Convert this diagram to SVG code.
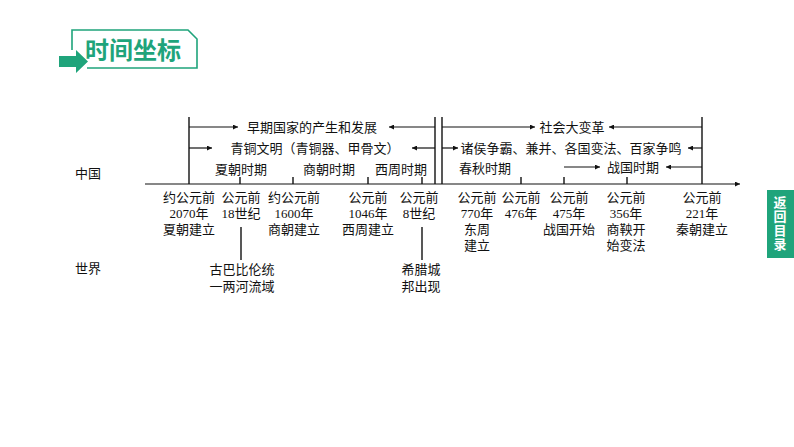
<svg xmlns="http://www.w3.org/2000/svg" width="794" height="447" viewBox="0 0 794 447">
<style>
  .t { font-family: "Liberation Serif", "Noto Sans CJK SC", serif; font-size: 13px; fill: #111; }
  .c { text-anchor: middle; }
  .ln { stroke: #111; stroke-width: 1.4; fill: none; }
  .ar { stroke: #111; stroke-width: 1.2; fill: none; marker-end: url(#ah); }
  .title { font-family: "Noto Sans CJK SC", "Noto Sans", sans-serif; font-weight: bold; font-size: 24px; fill: #1fa47b; }
  .side { font-family: "Noto Sans CJK SC", "Noto Sans", sans-serif; font-weight: bold; font-size: 13px; fill: #fff; writing-mode: vertical-rl; letter-spacing: 1px; }
</style>
<defs>
  <marker id="ah" viewBox="0 0 10 10" refX="10" refY="5" markerWidth="7" markerHeight="5" markerUnits="userSpaceOnUse" orient="auto">
    <path d="M0,0 L10,5 L0,10 Z" fill="#111"/>
  </marker>
</defs>
<rect width="794" height="447" fill="#fff"/>

<g id="header">
  <path d="M72,50 L72,30 L188,30 L197,39 L197,68 L87,68" fill="none" stroke="#1fa47b" stroke-width="1.6"/>
  <path d="M59,56 L76,56 L76,50 L88,61.5 L76,73 L76,67 L59,67 Z" fill="#1fa47b"/>
  <text class="title" x="133" y="59" text-anchor="middle">时间坐标</text>
</g>

<g id="side-tab">
  <rect x="767" y="190" width="27" height="68" fill="#1fa47b"/>
  <text class="side" x="780" y="196">返回目录</text>
</g>

<g id="row-labels">
  <text class="t" x="75" y="178">中国</text>
  <text class="t" x="75" y="273">世界</text>
</g>

<g id="connectors">
  <line class="ar" x1="145" y1="184" x2="740" y2="184"/>
  <line class="ln" x1="189" y1="117" x2="189" y2="184"/>
  <line class="ln" x1="435" y1="117" x2="435" y2="184"/>
  <line class="ln" x1="442" y1="117" x2="442" y2="184"/>
  <line class="ln" x1="702" y1="117" x2="702" y2="184"/>
  <line class="ln" x1="240" y1="177" x2="240" y2="184"/>
  <line class="ln" x1="293" y1="177" x2="293" y2="184"/>
  <line class="ln" x1="368" y1="177" x2="368" y2="184"/>
  <line class="ln" x1="422" y1="177" x2="422" y2="184"/>
  <line class="ln" x1="521" y1="177" x2="521" y2="184"/>
  <line class="ln" x1="564" y1="177" x2="564" y2="184"/>
  <line class="ln" x1="627" y1="177" x2="627" y2="184"/>
  <line class="ln" x1="241" y1="227" x2="241" y2="260"/>
  <line class="ln" x1="422" y1="227" x2="422" y2="260"/>
  <line class="ar" x1="189" y1="127" x2="238" y2="127"/>
  <line class="ar" x1="435" y1="127" x2="389" y2="127"/>
  <line class="ar" x1="189" y1="148" x2="212" y2="148"/>
  <line class="ar" x1="435" y1="148" x2="412" y2="148"/>
  <line class="ar" x1="442" y1="127" x2="535" y2="127"/>
  <line class="ar" x1="702" y1="127" x2="609" y2="127"/>
  <line class="ar" x1="442" y1="148" x2="458" y2="148"/>
  <line class="ar" x1="702" y1="148" x2="688" y2="148"/>
  <line class="ar" x1="564" y1="167" x2="600" y2="167"/>
  <line class="ar" x1="702" y1="167" x2="666" y2="167"/>
</g>

<g id="periods">
  <text class="t c" x="312" y="132">早期国家的产生和发展</text>
  <text class="t c" x="315" y="153">青铜文明（青铜器、甲骨文）</text>
  <text class="t c" x="241" y="174">夏朝时期</text>
  <text class="t c" x="329" y="174">商朝时期</text>
  <text class="t c" x="401" y="174">西周时期</text>
  <text class="t c" x="572" y="132">社会大变革</text>
  <text class="t c" x="571" y="153">诸侯争霸、兼并、各国变法、百家争鸣</text>
  <text class="t c" x="485" y="173">春秋时期</text>
  <text class="t c" x="633" y="172">战国时期</text>
</g>

<g id="events-china">
  <text class="t c" x="189" y="202">约公元前</text>
  <text class="t c" x="189" y="218">2070年</text>
  <text class="t c" x="189" y="234">夏朝建立</text>

  <text class="t c" x="241" y="202">公元前</text>
  <text class="t c" x="241" y="218">18世纪</text>

  <text class="t c" x="294" y="202">约公元前</text>
  <text class="t c" x="294" y="218">1600年</text>
  <text class="t c" x="294" y="234">商朝建立</text>

  <text class="t c" x="368" y="202">公元前</text>
  <text class="t c" x="368" y="218">1046年</text>
  <text class="t c" x="368" y="234">西周建立</text>

  <text class="t c" x="419" y="202">公元前</text>
  <text class="t c" x="419" y="218">8世纪</text>

  <text class="t c" x="477" y="202">公元前</text>
  <text class="t c" x="477" y="218">770年</text>
  <text class="t c" x="477" y="234">东周</text>
  <text class="t c" x="477" y="250">建立</text>

  <text class="t c" x="521" y="202">公元前</text>
  <text class="t c" x="521" y="218">476年</text>

  <text class="t c" x="569" y="202">公元前</text>
  <text class="t c" x="569" y="218">475年</text>
  <text class="t c" x="569" y="234">战国开始</text>

  <text class="t c" x="626" y="202">公元前</text>
  <text class="t c" x="626" y="218">356年</text>
  <text class="t c" x="626" y="234">商鞅开</text>
  <text class="t c" x="626" y="250">始变法</text>

  <text class="t c" x="702" y="202">公元前</text>
  <text class="t c" x="702" y="218">221年</text>
  <text class="t c" x="702" y="234">秦朝建立</text>
</g>

<g id="events-world">
  <text class="t c" x="242" y="274">古巴比伦统</text>
  <text class="t c" x="242" y="291">一两河流域</text>
  <text class="t c" x="421" y="274">希腊城</text>
  <text class="t c" x="421" y="291">邦出现</text>
</g>
</svg>
